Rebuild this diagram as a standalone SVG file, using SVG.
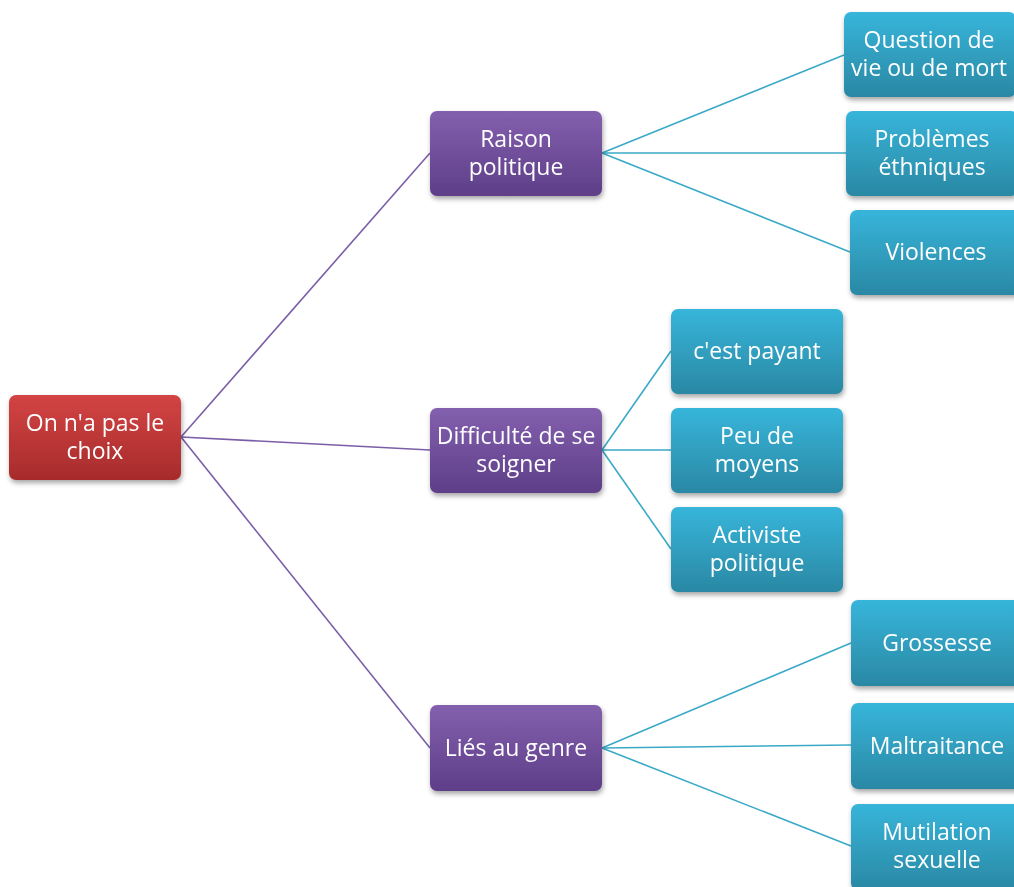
<svg xmlns="http://www.w3.org/2000/svg" width="1014" height="887" viewBox="0 0 1014 887">
<defs>
<linearGradient id="gRed" x1="0" y1="0" x2="0" y2="1"><stop offset="0" stop-color="#d34444"/><stop offset="1" stop-color="#a72b2b"/></linearGradient>
<linearGradient id="gPur" x1="0" y1="0" x2="0" y2="1"><stop offset="0" stop-color="#8360ae"/><stop offset="1" stop-color="#5e3e88"/></linearGradient>
<linearGradient id="gCy" x1="0" y1="0" x2="0" y2="1"><stop offset="0" stop-color="#37b5da"/><stop offset="1" stop-color="#2a88a4"/></linearGradient>
<filter id="sh" x="-10%" y="-10%" width="125%" height="135%"><feDropShadow dx="1" dy="3" stdDeviation="2.5" flood-color="#000" flood-opacity="0.35"/></filter>
</defs>
<style>
.n{filter:url(#sh)}
.t{font-family:"Open Sans","Liberation Sans",sans-serif;font-size:23px;fill:#fff;text-anchor:middle}
.ep{stroke:#7b5ea7;stroke-width:1.6;fill:none}
.ec{stroke:#3aa9c8;stroke-width:1.6;fill:none}
</style>
<rect width="1014" height="887" fill="#fff"/>
<g id="connectors">
<line class="ep" x1="181" y1="437" x2="430" y2="153"/>
<line class="ep" x1="181" y1="437" x2="430" y2="450"/>
<line class="ep" x1="181" y1="437" x2="430" y2="748"/>
<line class="ec" x1="602" y1="153" x2="844" y2="55"/>
<line class="ec" x1="602" y1="153" x2="846" y2="153"/>
<line class="ec" x1="602" y1="153" x2="850" y2="252"/>
<line class="ec" x1="602" y1="450" x2="671" y2="351"/>
<line class="ec" x1="602" y1="450" x2="671" y2="450"/>
<line class="ec" x1="602" y1="450" x2="671" y2="549"/>
<line class="ec" x1="602" y1="748" x2="851" y2="643"/>
<line class="ec" x1="602" y1="748" x2="851" y2="745"/>
<line class="ec" x1="602" y1="748" x2="851" y2="846"/>
</g>
<g id="root" class="n"><rect x="9" y="395" width="172" height="85" rx="7" fill="url(#gRed)"/><text class="t" x="95" y="431">On n'a pas le</text><text class="t" x="95" y="459">choix</text></g>
<g id="raison" class="n"><rect x="430" y="111" width="172" height="85" rx="7" fill="url(#gPur)"/><text class="t" x="516" y="147">Raison</text><text class="t" x="516" y="175">politique</text></g>
<g id="difficulte" class="n"><rect x="430" y="408" width="172" height="85" rx="7" fill="url(#gPur)"/><text class="t" x="516" y="444">Difficulté de se</text><text class="t" x="516" y="472">soigner</text></g>
<g id="lies" class="n"><rect x="430" y="705" width="172" height="86" rx="7" fill="url(#gPur)"/><text class="t" x="516" y="756">Liés au genre</text></g>
<g id="question" class="n"><rect x="844" y="12" width="172" height="85" rx="7" fill="url(#gCy)"/><text class="t" x="929" y="48">Question de</text><text class="t" x="929" y="76">vie ou de mort</text></g>
<g id="problemes" class="n"><rect x="846" y="111" width="172" height="85" rx="7" fill="url(#gCy)"/><text class="t" x="932" y="147">Problèmes</text><text class="t" x="932" y="175">éthniques</text></g>
<g id="violences" class="n"><rect x="850" y="210" width="172" height="85" rx="7" fill="url(#gCy)"/><text class="t" x="936" y="260">Violences</text></g>
<g id="payant" class="n"><rect x="671" y="309" width="172" height="85" rx="7" fill="url(#gCy)"/><text class="t" x="757" y="359">c'est payant</text></g>
<g id="moyens" class="n"><rect x="671" y="408" width="172" height="85" rx="7" fill="url(#gCy)"/><text class="t" x="757" y="444">Peu de</text><text class="t" x="757" y="472">moyens</text></g>
<g id="activiste" class="n"><rect x="671" y="507" width="172" height="85" rx="7" fill="url(#gCy)"/><text class="t" x="757" y="543">Activiste</text><text class="t" x="757" y="571">politique</text></g>
<g id="grossesse" class="n"><rect x="851" y="600" width="172" height="86" rx="7" fill="url(#gCy)"/><text class="t" x="937" y="651">Grossesse</text></g>
<g id="maltraitance" class="n"><rect x="851" y="703" width="172" height="86" rx="7" fill="url(#gCy)"/><text class="t" x="937" y="754">Maltraitance</text></g>
<g id="mutilation" class="n"><rect x="851" y="804" width="172" height="86" rx="7" fill="url(#gCy)"/><text class="t" x="937" y="840">Mutilation</text><text class="t" x="937" y="868">sexuelle</text></g>
</svg>
